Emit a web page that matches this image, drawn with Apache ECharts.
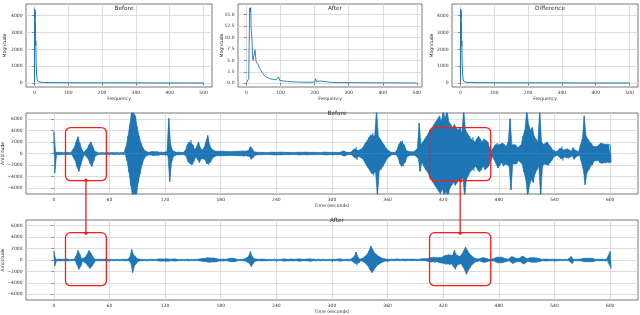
<!DOCTYPE html>
<html><head><meta charset="utf-8">
<script src="https://cdn.jsdelivr.net/npm/echarts@6/dist/echarts.min.js"></script>
<style>html,body{margin:0;padding:0;background:#fff}#c{width:640px;height:315px}</style>
</head><body><div id="c"></div>
<script>
// ---------- spectra ----------
const freqBefore = [0, 0.5, 1, 1.5, 2, 2.5, 3, 3.5, 4, 5, 6, 7, 8, 10, 12, 15, 20, 30, 50, 75, 100, 150, 200, 250, 300, 350, 400, 450, 500];
const magBefore  = [30, 4400, 4450, 3800, 4300, 3000, 3600, 2200, 2500, 1200, 700, 400, 200, 100, 80, 60, 50, 40, 35, 30, 28, 25, 22, 20, 18, 16, 15, 14, 12];
const freqAfter = [0, 3, 5, 6.8, 8, 9.7, 11, 12.7, 14, 16.6, 18, 19.5, 22, 25.4, 28, 30, 32.2, 35, 39, 43.9, 46.9, 50, 53.7, 60, 68.3, 80, 87.9, 90, 92.8, 94, 95.7, 98, 102.5, 120, 136.7, 160, 185.5, 200, 203, 206, 214.8, 218, 250, 283, 330, 381, 440, 500];
const magAfter  = [0.1, 0.1, 0.2, 1.0, 8, 16.4, 15.5, 16.5, 12, 9.1, 6, 5.0, 5.2, 7.3, 5.0, 4.5, 4.8, 4.0, 3.2, 2.8, 2.3, 2.0, 1.6, 1.3, 1.0, 0.85, 0.75, 1.1, 0.6, 1.4, 1.8, 0.6, 0.5, 0.4, 0.3, 0.25, 0.2, 0.25, 1.0, 0.3, 0.5, 0.2, 0.18, 0.15, 0.12, 0.1, 0.08, 0.06];
const freqDiff = [0, 0.5, 1, 1.5, 2, 2.5, 3, 3.5, 4, 5, 6, 7, 8, 10, 12, 15, 20, 30, 50, 75, 100, 150, 200, 250, 300, 350, 400, 450, 500];
const magDiff  = [30, 4380, 4440, 3780, 4290, 2990, 3590, 2190, 2490, 1190, 690, 395, 195, 95, 75, 55, 48, 38, 33, 29, 27, 24, 21, 19, 17, 15, 14, 13, 11];

const freqTicks = [0, 100, 200, 300, 400, 500];
const magTicksBig = [0, 1000, 2000, 3000, 4000];
const magTicksAfter = [0, 2.5, 5, 7.5, 10, 12.5, 15];

// ---------- time signals (envelope read every 2 s) ----------
const timeSec = [];
for (let t = 0; t <= 600; t += 2) timeSec.push(t);

const beforeUpper = [
 3800,200,180,200,150,180,150,200,150,150,
 200,1000,2000,2900,1800,800,200,200,800,1500,
 2000,1200,400,150,150,180,150,150,150,180,
 150,150,180,150,150,250,150,150,180,1200,
 3000,5000,7500,7500,6500,4500,3000,1800,1000,500,
 300,200,200,350,200,300,400,200,300,200,
 200,300,6100,1500,500,200,200,300,200,200,
 200,600,1500,2000,2300,1500,600,1200,2000,1000,
 600,1000,2000,3100,1500,800,500,400,300,400,
 300,400,300,350,400,300,400,350,300,400,
 300,400,500,400,400,500,1200,800,300,200,
 200,180,200,250,180,200,180,200,250,180,
 200,180,250,180,200,180,200,250,180,200,
 180,200,250,180,200,180,250,180,200,180,
 200,250,180,200,180,200,250,180,200,180,
 200,180,200,200,180,200,450,350,200,200,
 200,250,800,1100,500,400,800,1200,1800,2200,
 2800,3200,3500,3000,7500,3000,2500,2000,1500,1000,
 600,300,200,200,200,600,1500,2100,2200,1500,
 500,300,300,300,300,300,800,5250,1500,2000,
 2500,3000,3500,4000,4500,5000,5500,6000,6500,5500,
 7500,6000,7500,5500,5000,4500,5000,4500,4000,4500,
 3500,7500,4000,3500,3000,2500,2800,2000,2500,3000,
 2500,2000,2500,2200,2000,1000,500,400,1500,1800,
 1500,1200,1800,1500,1200,2000,6000,1500,1200,1500,
 1000,800,1500,3000,4000,7500,5000,4000,4500,3000,
 2500,2000,7500,2000,1500,1800,2000,1500,1200,600,
 300,300,400,900,1200,600,400,800,600,400,
 1000,600,400,300,1500,2500,6500,3000,2500,2000,
 1800,1200,1000,1200,1500,1800,1500,1600,1400,1600,
 1500];
const beforeLower = [
 -3400,-200,-180,-200,-150,-180,-150,-200,-150,-150,
 -200,-1200,-2300,-3100,-2000,-900,-200,-200,-900,-1700,
 -2250,-1300,-400,-150,-150,-180,-150,-150,-150,-180,
 -150,-150,-180,-150,-150,-250,-150,-150,-180,-1300,
 -3200,-5500,-7500,-7500,-7500,-5000,-3500,-2000,-1000,-500,
 -300,-200,-200,-350,-200,-300,-400,-200,-300,-200,
 -200,-300,-4850,-1500,-500,-200,-200,-300,-200,-200,
 -200,-600,-1500,-1800,-1950,-1400,-600,-1000,-1560,-900,
 -600,-1000,-1800,-1960,-1500,-800,-500,-400,-300,-400,
 -300,-400,-300,-350,-400,-300,-400,-350,-300,-400,
 -300,-400,-500,-400,-400,-500,-1000,-700,-300,-200,
 -200,-180,-200,-250,-180,-200,-180,-200,-250,-180,
 -200,-180,-250,-180,-200,-180,-200,-250,-180,-200,
 -180,-200,-250,-180,-200,-180,-250,-180,-200,-180,
 -200,-250,-180,-200,-180,-200,-250,-180,-200,-180,
 -200,-180,-200,-200,-180,-200,-450,-350,-200,-200,
 -200,-250,-800,-1100,-500,-400,-900,-1400,-2000,-2500,
 -3000,-3500,-3800,-3200,-7500,-3000,-2800,-2200,-1600,-1000,
 -600,-300,-200,-200,-200,-600,-1700,-2250,-2200,-1500,
 -500,-300,-300,-300,-300,-300,-800,-3100,-1500,-2200,
 -2800,-3200,-3800,-4500,-5000,-5500,-6000,-6500,-7000,-6000,
 -7500,-6500,-7500,-6000,-5500,-5000,-5500,-5000,-4500,-5000,
 -4000,-7500,-4500,-3800,-3200,-2800,-3000,-2200,-2800,-3200,
 -2800,-2200,-2800,-2500,-2200,-1200,-500,-400,-1800,-2500,
 -2000,-1500,-2200,-1800,-1500,-2200,-6300,-1800,-1500,-1800,
 -1200,-900,-1800,-3200,-4500,-7500,-5500,-4500,-5000,-3500,
 -2800,-2200,-7500,-2200,-1800,-2000,-2000,-1600,-1200,-600,
 -300,-300,-400,-900,-1200,-600,-400,-800,-600,-400,
 -1000,-600,-400,-300,-1500,-2800,-5400,-3300,-2800,-2200,
 -2000,-1300,-1000,-1200,-1600,-1800,-1600,-1700,-1500,-1700,
 -1500];

const afterUpper = [
 1560,130,100,160,100,130,100,160,100,100,
 100,130,700,1670,1000,200,130,500,1000,1670,
 1200,600,130,100,130,100,130,100,160,100,
 100,130,100,160,100,130,100,100,130,100,
 130,500,1840,900,600,200,160,130,200,100,
 200,100,160,100,200,100,130,200,100,160,
 100,200,100,130,100,200,100,100,160,100,
 130,100,200,100,130,100,200,100,160,200,
 300,250,350,400,300,350,400,300,200,130,
 100,160,100,130,250,300,350,300,160,100,
 130,100,160,200,400,600,1460,600,200,100,
 130,100,160,100,130,200,100,130,100,160,
 100,160,100,130,200,100,130,100,160,100,
 130,100,200,100,130,100,160,100,200,100,
 130,160,100,200,100,130,100,160,100,130,
 130,200,100,160,200,160,100,200,130,100,
 130,200,600,1390,500,130,160,400,600,1000,
 1600,2430,1800,1200,900,700,500,300,200,160,
 160,130,100,130,100,160,100,130,100,160,
 100,130,100,160,100,130,100,130,100,250,
 130,200,300,400,300,500,300,400,500,400,
 600,800,700,900,700,800,1700,900,700,600,
 1000,1600,2250,1700,1200,800,500,300,200,160,
 200,400,500,300,160,130,130,200,400,500,
 400,500,400,300,200,130,400,600,500,300,
 200,300,600,700,500,200,300,400,350,400,
 400,300,200,130,100,160,100,130,100,130,
 100,130,200,100,130,100,130,100,130,600,
 130,100,130,100,160,250,300,250,300,200,
 300,200,130,100,130,100,130,160,130,300,
 1500];
const afterLower = [
 -1040,-130,-100,-160,-100,-130,-100,-160,-100,-100,
 -100,-130,-800,-1630,-1100,-200,-130,-600,-1100,-1470,
 -1100,-600,-130,-100,-130,-100,-130,-100,-160,-100,
 -100,-130,-100,-160,-100,-130,-100,-100,-130,-100,
 -130,-500,-2200,-1000,-600,-200,-160,-130,-200,-100,
 -200,-100,-160,-100,-200,-100,-130,-200,-100,-160,
 -100,-200,-100,-130,-100,-200,-100,-100,-160,-100,
 -130,-100,-200,-100,-130,-100,-200,-100,-160,-200,
 -300,-250,-350,-400,-300,-350,-400,-300,-200,-130,
 -100,-160,-100,-130,-250,-300,-350,-300,-160,-100,
 -130,-100,-160,-200,-400,-600,-1140,-600,-200,-100,
 -130,-100,-160,-100,-130,-200,-100,-130,-100,-160,
 -100,-160,-100,-130,-200,-100,-130,-100,-160,-100,
 -130,-100,-200,-100,-130,-100,-160,-100,-200,-100,
 -130,-160,-100,-200,-100,-130,-100,-160,-100,-130,
 -130,-200,-100,-160,-200,-160,-100,-200,-130,-100,
 -130,-200,-600,-930,-500,-130,-160,-400,-700,-1100,
 -1700,-2200,-1900,-1300,-900,-700,-500,-300,-200,-160,
 -160,-130,-100,-130,-100,-160,-100,-130,-100,-160,
 -100,-130,-100,-160,-100,-130,-100,-130,-100,-250,
 -130,-200,-300,-400,-300,-500,-300,-400,-500,-400,
 -600,-800,-700,-900,-700,-800,-1600,-900,-700,-600,
 -1100,-1700,-2500,-1800,-1300,-800,-500,-300,-200,-160,
 -200,-400,-500,-300,-160,-130,-130,-200,-400,-500,
 -400,-500,-400,-300,-200,-130,-400,-600,-500,-300,
 -200,-300,-600,-700,-500,-200,-300,-400,-350,-400,
 -400,-300,-200,-130,-100,-160,-100,-130,-100,-130,
 -100,-130,-200,-100,-130,-100,-130,-100,-130,-600,
 -130,-100,-130,-100,-160,-250,-300,-250,-300,-200,
 -300,-200,-130,-100,-130,-100,-130,-160,-130,-300,
 -1500];

const timeTicks = [0, 60, 120, 180, 240, 300, 360, 420, 480, 540, 600];
const ampTicks = [-6000, -4000, -2000, 0, 2000, 4000, 6000];

// highlighted time windows (seconds) and box amplitude extents
const zoomWindows = [[12.6, 56.7], [405.2, 471.2]];
const boxAmpBefore = [-4700, 4480];
const boxAmpAfter = [-4500, 4780];

// ---------- build ----------
const FONT = 'DejaVu Sans';
const TXT = '#333';
const BLUE = '#1f77b4';

function pairs(xs, ys) { return xs.map((x, i) => [x, ys[i]]); }
function zigzag(ts, up, lo) {
  const out = [];
  ts.forEach((t, i) => { out.push([t, up[i]]); out.push([t + 1, lo[i]]); });
  return out;
}

const gridBox = (left, top, width, height) => ({
  left, top, width, height, show: true, borderColor: '#555', borderWidth: 0.8,
  backgroundColor: 'transparent', containLabel: false, outerBoundsMode: 'none'
});
const grids = [
  gridBox(26, 4, 186, 83),
  gridBox(238, 4, 184, 83),
  gridBox(452, 4, 186, 83),
  gridBox(26, 113, 612, 81),
  gridBox(26, 220, 612, 80)
];

function xAx(gi, min, max, ticks, name, fmt) {
  return {
    type: 'value', gridIndex: gi, min, max,
    name, nameLocation: 'middle', nameGap: 9.5, nameMoveOverlap: false,
    nameTextStyle: { fontSize: 4.6, color: TXT, fontFamily: FONT },
    axisLine: { show: false },
    axisTick: { show: true, length: 2.2, customValues: ticks, lineStyle: { color: '#444', width: 0.6 } },
    axisLabel: { customValues: ticks, fontSize: 4.5, color: TXT, fontFamily: FONT, margin: 3.2, formatter: fmt || (v => String(v)) },
    splitLine: { show: true, lineStyle: { color: '#d4d4d4', width: 0.8 } }
  };
}
function yAx(gi, min, max, ticks, name, gap, fmt) {
  return {
    type: 'value', gridIndex: gi, min, max,
    name, nameLocation: 'middle', nameGap: gap, nameRotate: 90, nameMoveOverlap: false,
    nameTextStyle: { fontSize: 4.5, color: TXT, fontFamily: FONT },
    axisLine: { show: false },
    axisTick: { show: true, length: 2.2, customValues: ticks, lineStyle: { color: '#444', width: 0.6 } },
    axisLabel: { customValues: ticks, fontSize: 4.5, color: TXT, fontFamily: FONT, margin: 3.5, formatter: fmt || (v => String(v)) },
    splitLine: { show: true, lineStyle: { color: '#d4d4d4', width: 0.8 } }
  };
}
const fmtNeg = v => (v < 0 ? '\u2212' + Math.abs(v) : String(v));

function waveSeries(axisIdx, ts, up, lo) {
  const common = { type: 'line', xAxisIndex: axisIdx, yAxisIndex: axisIdx, showSymbol: false, sampling: null,
    itemStyle: { color: BLUE }, z: 3 };
  return [
    Object.assign({}, common, { data: pairs(ts, up), lineStyle: { color: BLUE, width: 0.6 },
      areaStyle: { color: BLUE, opacity: 1, origin: 0 } }),
    Object.assign({}, common, { data: pairs(ts.map(t => t + 1), lo), lineStyle: { color: BLUE, width: 0.6 },
      areaStyle: { color: BLUE, opacity: 1, origin: 0 } }),
    Object.assign({}, common, { data: zigzag(ts, up, lo), lineStyle: { color: BLUE, width: 0.7 } })
  ];
}

const option = {
  animation: false,
  backgroundColor: '#fff',
  title: [
    { text: 'Before', left: 119, top: 0, textAlign: 'center', textStyle: { fontSize: 5.8, fontWeight: 'normal', color: TXT, fontFamily: FONT } },
    { text: 'After', left: 330, top: 0, textAlign: 'center', textStyle: { fontSize: 5.8, fontWeight: 'normal', color: TXT, fontFamily: FONT } },
    { text: 'Difference', left: 545, top: 0, textAlign: 'center', textStyle: { fontSize: 5.8, fontWeight: 'normal', color: TXT, fontFamily: FONT } },
    { text: 'Before', left: 332, top: 105, textAlign: 'center', textStyle: { fontSize: 5.8, fontWeight: 'normal', color: TXT, fontFamily: FONT } },
    { text: 'After', left: 332, top: 212, textAlign: 'center', textStyle: { fontSize: 5.8, fontWeight: 'normal', color: TXT, fontFamily: FONT } }
  ],
  grid: grids,
  xAxis: [
    xAx(0, -25, 525, freqTicks, 'Frequency'),
    xAx(1, -24.6, 515, freqTicks, 'Frequency'),
    xAx(2, -25, 525, freqTicks, 'Frequency'),
    xAx(3, -30, 630, timeTicks, 'Time (seconds)'),
    xAx(4, -30, 630, timeTicks, 'Time (seconds)')
  ],
  yAxis: [
    yAx(0, -225, 4680, magTicksBig, 'Magnitude', 18.5),
    yAx(1, -0.82, 17.3, magTicksAfter, 'Magnitude', 14, v => v.toFixed(1)),
    yAx(2, -225, 4680, magTicksBig, 'Magnitude', 18),
    yAx(3, -7000, 7000, ampTicks, 'Amplitude', 21, fmtNeg),
    yAx(4, -7000, 7000, ampTicks, 'Amplitude', 21, fmtNeg)
  ],
  series: [
    { type: 'line', xAxisIndex: 0, yAxisIndex: 0, data: pairs(freqBefore, magBefore), showSymbol: false, lineStyle: { color: BLUE, width: 1 }, itemStyle: { color: BLUE } },
    { type: 'line', xAxisIndex: 1, yAxisIndex: 1, data: pairs(freqAfter, magAfter), showSymbol: false, lineStyle: { color: BLUE, width: 0.9 }, itemStyle: { color: BLUE } },
    { type: 'line', xAxisIndex: 2, yAxisIndex: 2, data: pairs(freqDiff, magDiff), showSymbol: false, lineStyle: { color: BLUE, width: 1 }, itemStyle: { color: BLUE } }
  ].concat(waveSeries(3, timeSec, beforeUpper, beforeLower), waveSeries(4, timeSec, afterUpper, afterLower))
};

const chart = echarts.init(document.getElementById('c'), null, { renderer: 'canvas' });
chart.setOption(option);

// red annotation boxes and connectors, positioned through the axes
const RED = '#ff1a1a';
const gfx = [];
zoomWindows.forEach(([t0, t1]) => {
  const bTL = chart.convertToPixel({ gridIndex: 3 }, [t0, boxAmpBefore[1]]);
  const bBR = chart.convertToPixel({ gridIndex: 3 }, [t1, boxAmpBefore[0]]);
  const aTL = chart.convertToPixel({ gridIndex: 4 }, [t0, boxAmpAfter[1]]);
  const aBR = chart.convertToPixel({ gridIndex: 4 }, [t1, boxAmpAfter[0]]);
  [[bTL, bBR], [aTL, aBR]].forEach(([tl, br]) => {
    gfx.push({ type: 'rect', z: 100, shape: { x: tl[0], y: tl[1], width: br[0] - tl[0], height: br[1] - tl[1], r: 5 },
      style: { fill: null, stroke: RED, lineWidth: 1.3 } });
  });
  const cx = (bTL[0] + bBR[0]) / 2;
  gfx.push({ type: 'line', z: 100, shape: { x1: cx, y1: bBR[1], x2: cx, y2: aTL[1] }, style: { stroke: RED, lineWidth: 1.3 } });
  gfx.push({ type: 'circle', z: 101, shape: { cx: cx, cy: bBR[1] - 0.5, r: 1.6 }, style: { fill: RED } });
  gfx.push({ type: 'circle', z: 101, shape: { cx: cx, cy: aTL[1] + 0.5, r: 1.6 }, style: { fill: RED } });
});
chart.setOption({ graphic: gfx });
</script>
</body></html>
